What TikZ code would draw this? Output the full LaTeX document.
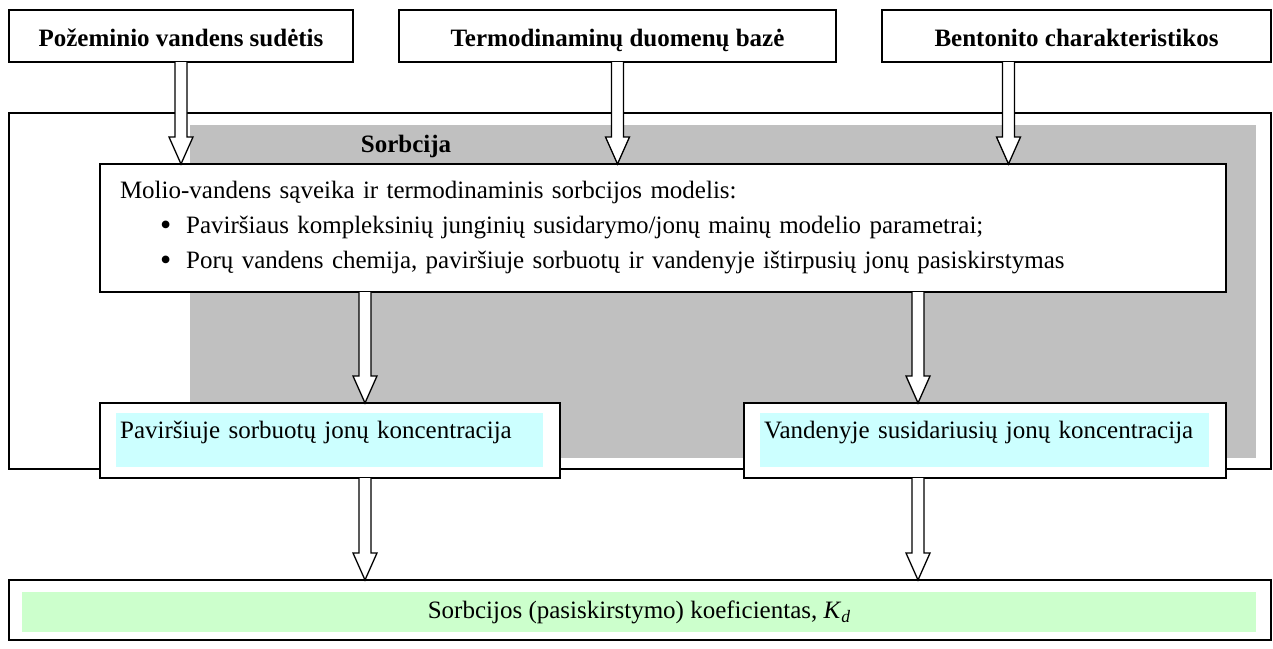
\documentclass[tikz,border=0pt]{standalone}
\usepackage{fontspec}
\setmainfont{Liberation Serif}
\usetikzlibrary{positioning, calc}

\definecolor{SorbGray}{RGB}{192, 192, 192}
\definecolor{LightCyan}{RGB}{204, 255, 255}
\definecolor{LightGreen}{RGB}{204, 255, 204}

% hollow block arrow from #1 down to #2
\newcommand{\hollowarrow}[2]{%
  \draw[hollow] ($(#1)+(-6,0)$) -- ($(#2)+(-6,-27)$) -- ($(#2)+(-12,-27)$) -- (#2)
    -- ($(#2)+(12,-27)$) -- ($(#2)+(6,-27)$) -- ($(#1)+(6,0)$);}
\newcommand{\bigbullet}{\raisebox{-1.5pt}{\fontsize{32}{32}\selectfont\textbullet}}

\begin{document}
\begin{tikzpicture}[x=1pt, y=-1pt,
    box/.style={draw, line width=1.3pt, fill=white, inner sep=0pt, outer sep=0pt, anchor=north west},
    head/.style={font=\fontsize{25}{28}\selectfont\bfseries, text height=21pt, text depth=0pt},
    body/.style={font=\fontsize{25}{35}\selectfont},
    tint/.style={anchor=north west, inner xsep=4pt, inner ysep=0pt, align=left, text height=25pt, text depth=29pt},
    hollow/.style={draw, line width=1.3pt, fill=white, line join=miter}]

\useasboundingbox (0,0) rectangle (1273,648);

% sorption block
\node[box, minimum width=1262pt, minimum height=356pt] (outer) at (9,113) {};
\node[fill=SorbGray, anchor=north west, inner sep=0pt, minimum width=1066pt, minimum height=333pt] (shade) at (190,125) {};
\node[head] (sorb) at (406,142) {Sorbcija};

\node[box, body, minimum width=1126pt, minimum height=128pt, text width=1086pt, align=left] (molio) at (100,164)
  {Molio-vandens sąveika ir termodinaminis sorbcijos modelis:\\
   \hspace*{40pt}\bigbullet\hspace{15pt}Paviršiaus kompleksinių junginių susidarymo/jonų mainų modelio parametrai;\\
   \hspace*{40pt}\bigbullet\hspace{15pt}Porų vandens chemija, paviršiuje sorbuotų ir vandenyje ištirpusių jonų pasiskirstymas};

\node[box, minimum width=460pt, minimum height=75pt] (sorbed) at (100,403) {};
\node[tint, body, fill=LightCyan, text width=419pt] (sorbedtxt) at ([shift={(16,10)}]sorbed.north west)
  {Paviršiuje sorbuotų jonų koncentracija};
\node[box, minimum width=482pt, minimum height=75pt] (dissolved) at (744,403) {};
\node[tint, body, fill=LightCyan, text width=441pt] (dissolvedtxt) at ([shift={(16,10)}]dissolved.north west)
  {Vandenyje susidariusių jonų koncentracija};

% result
\node[box, minimum width=1262pt, minimum height=60pt] (kd) at (9,580) {};
\node[body, fill=LightGreen, anchor=north west, inner sep=0pt, minimum width=1234pt, minimum height=40pt] (kdtxt)
  at ([shift={(13,12)}]kd.north west) {Sorbcijos (pasiskirstymo) koeficientas, \textit{K}\textsubscript{\textit{d}}\hspace{10pt}};

% inputs
\node[box, head, minimum width=344pt, minimum height=52pt] (water) at (9,10) {Požeminio vandens sudėtis};
\node[box, head, minimum width=437pt, minimum height=52pt, right=46pt of water] (thermo) {Termodinaminų duomenų bazė};
\node[box, head, minimum width=389pt, minimum height=52pt, right=46pt of thermo] (bentonite) {Bentonito charakteristikos};

\coordinate (bentout) at ([xshift=-68pt]bentonite.south);
\coordinate (molleft) at ([xshift=-298pt]molio.south);
\coordinate (molright) at ([xshift=255pt]molio.south);

\hollowarrow{water.south}{water.south |- molio.north}
\hollowarrow{thermo.south}{thermo.south |- molio.north}
\hollowarrow{bentout}{bentout |- molio.north}
\hollowarrow{molleft}{molleft |- sorbed.north}
\hollowarrow{molright}{molright |- dissolved.north}
\hollowarrow{molleft |- sorbed.south}{molleft |- kd.north}
\hollowarrow{molright |- dissolved.south}{molright |- kd.north}
\end{tikzpicture}
\end{document}
